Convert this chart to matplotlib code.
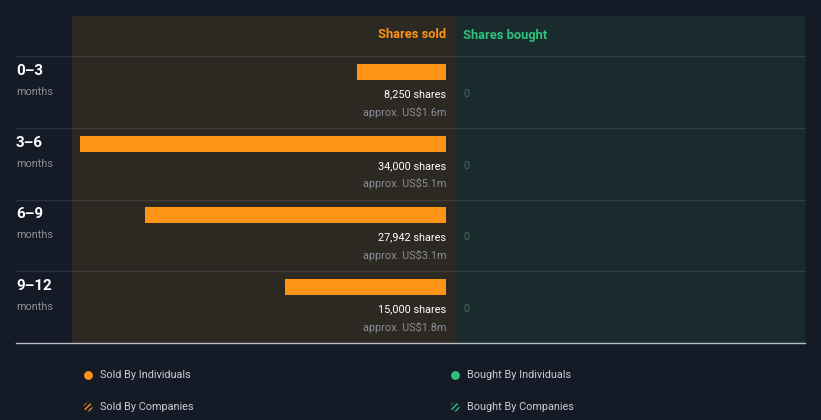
import matplotlib

matplotlib.use("Agg")
import numpy as np
from matplotlib import pyplot as plt
from matplotlib.patches import Rectangle

plt.rcParams["font.family"] = ["Roboto", "DejaVu Sans"]

# data
periods = ["0\u20133", "3\u20136", "6\u20139", "9\u201312"]
shares_sold = [8250, 34000, 27942, 15000]
sold_labels = ["8,250 shares", "34,000 shares", "27,942 shares", "15,000 shares"]
value_labels = ["approx. US$1.6m", "approx. US$5.1m", "approx. US$3.1m", "approx. US$1.8m"]
shares_bought = [0, 0, 0, 0]
legend_labels = ["Sold By Individuals", "Bought By Individuals",
                 "Sold By Companies", "Bought By Companies"]

BG = "#151b26"
SOLD_BG = "#2c2822"
BOUGHT_BG = "#1a2b2e"
ORANGE = "#ff9316"
GREEN = "#2ec27e"
W, H = 821, 420

fig = plt.figure(figsize=(W / 100, H / 100), dpi=100, facecolor=BG)

# pixel-space layout axes
ax = fig.add_axes([0, 0, 1, 1])
ax.set_xlim(0, W)
ax.set_ylim(H, 0)
ax.axis("off")

top, header_bottom, bottom = 16, 56, 343
sold_left, split, bought_right = 72, 455, 805
ax.add_patch(Rectangle((sold_left, top), split - sold_left, bottom - top, color=SOLD_BG, lw=0))
ax.add_patch(Rectangle((split, top), bought_right - split, bottom - top, color=BOUGHT_BG, lw=0))

row_h = (bottom - header_bottom) / len(periods)
for i in range(len(periods)):
    y = header_bottom + i * row_h
    ax.plot([16, bought_right], [y, y], color="#ffffff", alpha=0.1, lw=1)
    ax.text(16, y + 15, periods[i], color="white", fontsize=11, fontweight="bold",
            va="center", ha="left")
    ax.text(16, y + 36, "months", color="#8a8f98", fontsize=7.8, va="center", ha="left")
    ax.text(463, y + 38, str(shares_bought[i]), color="#4f6664", fontsize=7.8,
            va="center", ha="left")
ax.plot([16, bought_right], [bottom, bottom], color="#b8bcc4", lw=1)

ax.text(446, 35, "Shares sold", color=ORANGE, fontsize=9.3, fontweight="bold",
        ha="right", va="center")
ax.text(463, 35, "Shares bought", color=GREEN, fontsize=9.3, fontweight="bold",
        ha="left", va="center")

# bars axes: x runs right-to-left from the panel split
bar_left, bar_right = 80, 446
bax = fig.add_axes([bar_left / W, (H - bottom) / H, (bar_right - bar_left) / W,
                    (bottom - header_bottom) / H])
bax.set_xlim(max(shares_sold), 0)
bax.set_ylim(len(periods), 0)
bax.axis("off")
bax.patch.set_alpha(0)
ypos = np.arange(len(periods))
bax.barh(ypos + 0.222, shares_sold, height=0.222, left=0, color=ORANGE)
for i in range(len(periods)):
    bax.text(0, ypos[i] + 0.53, sold_labels[i], color="white", fontsize=7.8,
             ha="right", va="center")
    bax.text(0, ypos[i] + 0.78, value_labels[i], color="#8a8f98", fontsize=7.8,
             ha="right", va="center")

# legend
leg_pos = [(88, 375), (455, 375), (88, 407), (455, 407)]
leg_colors = [ORANGE, GREEN, ORANGE, GREEN]
for k, (lx, ly) in enumerate(leg_pos):
    if k < 2:
        ax.scatter([lx], [ly], s=40, color=leg_colors[k], marker="o", lw=0)
    else:
        ax.scatter([lx], [ly], s=40, facecolor=BG, edgecolor=leg_colors[k],
                   marker="o", hatch="//////", lw=0)
    ax.text(lx + 12, ly, legend_labels[k], color="#c9ccd2", fontsize=7.8,
            ha="left", va="center")

fig.savefig("out.png", dpi=100, facecolor=BG)
